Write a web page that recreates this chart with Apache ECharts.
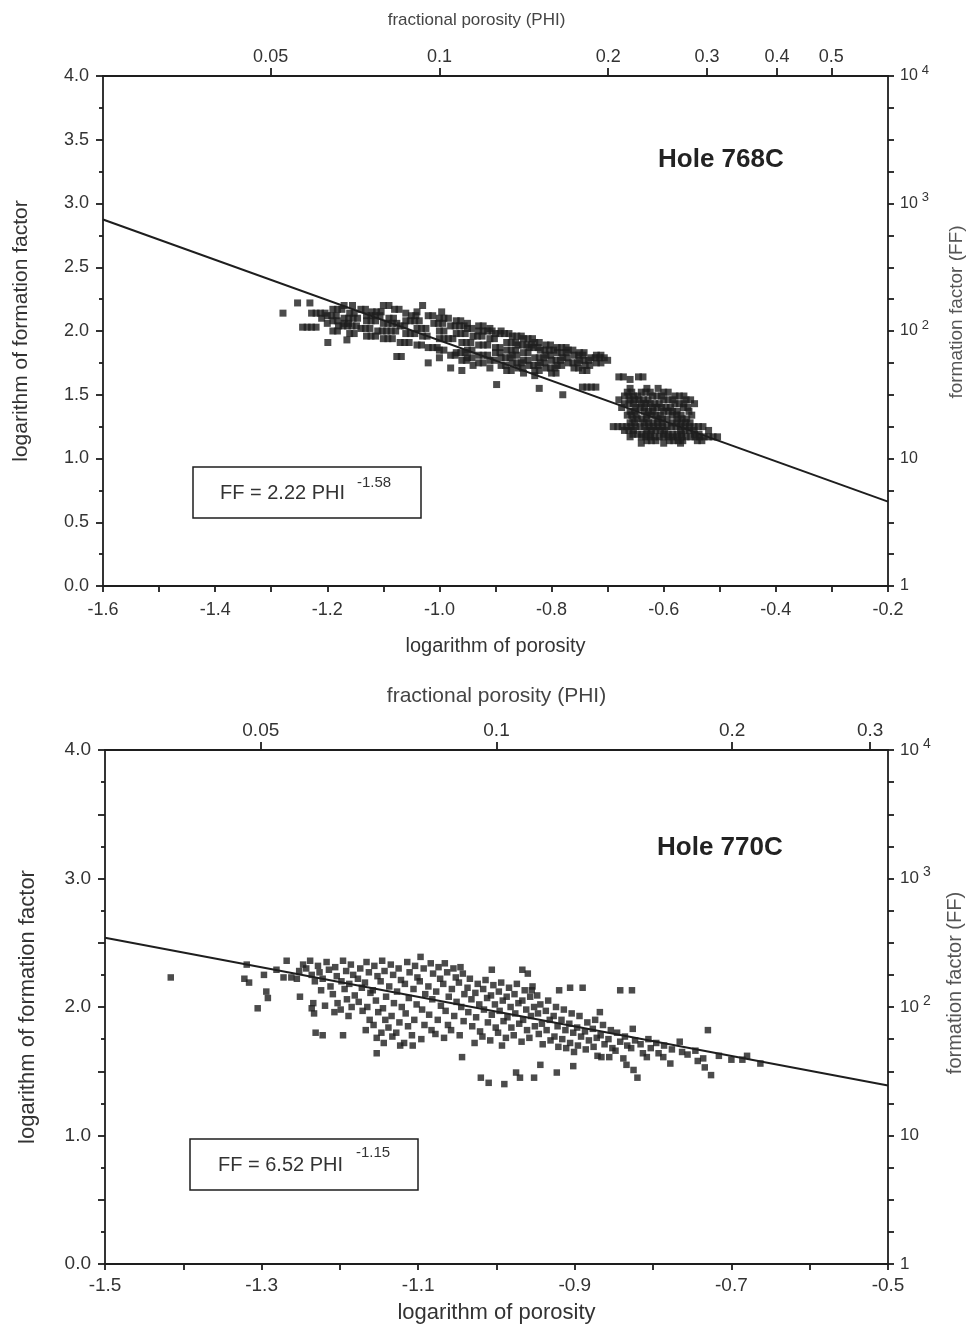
<!DOCTYPE html>
<html><head><meta charset="utf-8">
<script src="https://cdn.jsdelivr.net/npm/echarts@6/dist/echarts.min.js"></script>
<style>html,body{margin:0;padding:0;background:#fff}#c{width:974px;height:1327px}</style>
</head><body><div id="c"></div>
<script>
// ---------- DATA ----------
// Hole 768C: points read as horizontal runs [log FF, [log porosity ...]]
const hole768Strands = [
 [2.22, [-1.253, -1.231]],
 [2.20, [-1.17, -1.155, -1.10, -1.09, -1.03]],
 [2.17, [-1.19, -1.182, -1.174, -1.14, -1.132, -1.08, -1.072]],
 [2.15, [-1.12, -1.112, -1.104, -1.04, -0.996]],
 [2.14, [-1.279, -1.228, -1.22, -1.212, -1.204, -1.16, -1.152, -1.06]],
 [2.12, [-1.20, -1.192, -1.184, -1.13, -1.122, -1.114, -1.106, -1.05, -1.042, -1.02, -1.012]],
 [2.10, [-1.21, -1.17, -1.162, -1.154, -1.146, -1.09, -1.082, -1.00, -0.992, -0.984]],
 [2.08, [-1.19, -1.182, -1.13, -1.122, -1.114, -1.06, -1.052, -1.044, -1.036, -0.97, -0.962]],
 [2.06, [-1.20, -1.17, -1.162, -1.10, -1.092, -1.084, -1.076, -1.01, -1.002, -0.994, -0.95]],
 [2.04, [-1.18, -1.172, -1.164, -1.156, -1.148, -1.07, -1.062, -0.98, -0.972, -0.964, -0.956, -0.93, -0.922]],
 [2.03, [-1.244, -1.236, -1.228, -1.22]],
 [2.02, [-1.14, -1.132, -1.124, -1.04, -1.032, -1.024, -0.95, -0.942, -0.91]],
 [2.00, [-1.19, -1.182, -1.11, -1.102, -1.094, -1.086, -1.078, -1.00, -0.992, -0.93, -0.922, -0.914, -0.906, -0.89]],
 [1.98, [-1.16, -1.152, -1.06, -1.052, -1.044, -0.97, -0.962, -0.954, -0.90, -0.892, -0.884, -0.876]],
 [1.96, [-1.13, -1.122, -1.114, -1.03, -1.022, -0.94, -0.932, -0.924, -0.87, -0.862, -0.854]],
 [1.94, [-1.10, -1.092, -1.084, -1.00, -0.992, -0.984, -0.976, -0.91, -0.902, -0.85, -0.842, -0.834]],
 [1.93, [-1.165]],
 [1.91, [-1.199, -1.07, -1.062, -1.054, -0.96, -0.952, -0.944, -0.88, -0.872, -0.864, -0.83, -0.822]],
 [1.89, [-1.04, -1.032, -0.93, -0.922, -0.914, -0.86, -0.852, -0.844, -0.836, -0.81, -0.802]],
 [1.87, [-1.02, -1.012, -1.004, -0.90, -0.892, -0.84, -0.832, -0.824, -0.79, -0.782, -0.774]],
 [1.85, [-1.00, -0.992, -0.95, -0.942, -0.88, -0.872, -0.864, -0.82, -0.812, -0.804, -0.796, -0.77, -0.762]],
 [1.83, [-0.97, -0.962, -0.954, -0.90, -0.892, -0.85, -0.842, -0.79, -0.782, -0.774, -0.75, -0.742]],
 [1.81, [-0.98, -0.972, -0.93, -0.922, -0.914, -0.87, -0.862, -0.81, -0.802, -0.76, -0.752, -0.744, -0.72, -0.712]],
 [1.80, [-1.076, -1.068]],
 [1.79, [-1.00, -0.95, -0.942, -0.89, -0.882, -0.874, -0.83, -0.822, -0.814, -0.78, -0.772, -0.73, -0.722, -0.714, -0.706]],
 [1.77, [-0.96, -0.952, -0.91, -0.902, -0.85, -0.842, -0.80, -0.792, -0.784, -0.75, -0.742, -0.734, -0.70]],
 [1.75, [-1.02, -0.93, -0.922, -0.87, -0.862, -0.854, -0.82, -0.812, -0.77, -0.762, -0.754, -0.72, -0.712]],
 [1.73, [-0.94, -0.89, -0.882, -0.84, -0.832, -0.824, -0.79, -0.782, -0.74, -0.732]],
 [1.71, [-0.98, -0.91, -0.86, -0.852, -0.81, -0.802, -0.794, -0.76, -0.752]],
 [1.69, [-0.96, -0.88, -0.872, -0.83, -0.822, -0.745, -0.737]],
 [1.67, [-0.85, -0.80, -0.792]],
 [1.65, [-0.83]],
 [1.64, [-0.68, -0.672, -0.645, -0.637]],
 [1.62, [-0.66]],
 [1.58, [-0.898]],
 [1.56, [-0.745, -0.737, -0.729, -0.721]],
 [1.55, [-0.822, -0.66, -0.63, -0.61]],
 [1.52, [-0.665, -0.657, -0.64, -0.632, -0.624, -0.60, -0.592]],
 [1.50, [-0.78]],
 [1.49, [-0.67, -0.662, -0.654, -0.646, -0.62, -0.612, -0.604, -0.58, -0.572, -0.564]],
 [1.46, [-0.68, -0.66, -0.652, -0.644, -0.636, -0.628, -0.60, -0.592, -0.584, -0.56, -0.552]],
 [1.43, [-0.67, -0.662, -0.654, -0.64, -0.632, -0.624, -0.616, -0.608, -0.58, -0.572, -0.564, -0.545]],
 [1.40, [-0.675, -0.65, -0.642, -0.634, -0.62, -0.612, -0.604, -0.596, -0.588, -0.565, -0.557]],
 [1.37, [-0.66, -0.652, -0.635, -0.627, -0.619, -0.60, -0.592, -0.584, -0.576, -0.555]],
 [1.34, [-0.665, -0.657, -0.649, -0.63, -0.622, -0.614, -0.606, -0.585, -0.577, -0.569, -0.55]],
 [1.31, [-0.655, -0.647, -0.639, -0.631, -0.61, -0.602, -0.594, -0.575, -0.567, -0.559]],
 [1.28, [-0.66, -0.652, -0.635, -0.627, -0.619, -0.611, -0.603, -0.585, -0.577, -0.569, -0.561, -0.553]],
 [1.25, [-0.69, -0.682, -0.674, -0.666, -0.658, -0.65, -0.642, -0.634, -0.626, -0.618, -0.61, -0.602, -0.594, -0.586, -0.578, -0.57, -0.562, -0.554, -0.546, -0.538, -0.53]],
 [1.22, [-0.67, -0.662, -0.654, -0.63, -0.622, -0.614, -0.606, -0.598, -0.57, -0.562, -0.554, -0.546, -0.52]],
 [1.19, [-0.655, -0.647, -0.639, -0.631, -0.623, -0.60, -0.592, -0.584, -0.576, -0.568, -0.545, -0.537]],
 [1.17, [-0.66, -0.64, -0.632, -0.624, -0.616, -0.608, -0.60, -0.592, -0.584, -0.576, -0.568, -0.56, -0.552, -0.544, -0.536, -0.528, -0.52, -0.512, -0.504]],
 [1.14, [-0.63, -0.622, -0.614, -0.59, -0.582, -0.574, -0.566, -0.54, -0.532]],
 [1.12, [-0.64, -0.60, -0.57]]
];
// Hole 770C: [log porosity, log formation factor]
const hole770Points = [
[-1.416,2.23],
[-1.319,2.33],[-1.322,2.22],[-1.316,2.19],[-1.305,1.99],[-1.294,2.12],[-1.292,2.07],[-1.297,2.25],[-1.281,2.29],[-1.268,2.36],[-1.272,2.23],[-1.262,2.23],[-1.255,2.22],[-1.251,2.08],[-1.234,2.03],[-1.236,1.99],[-1.233,1.95],[-1.231,1.80],[-1.222,1.78],[-1.196,1.78],
[-1.247,2.33],[-1.252,2.28],
[-1.238,2.36],[-1.243,2.30],[-1.236,2.25],
[-1.228,2.32],[-1.226,2.27],[-1.232,2.20],[-1.224,2.13],
[-1.217,2.35],[-1.214,2.29],[-1.222,2.22],[-1.212,2.16],[-1.219,2.01],
[-1.206,2.31],[-1.204,2.24],[-1.209,2.10],[-1.203,2.03],[-1.207,1.96],
[-1.196,2.36],[-1.192,2.28],[-1.198,2.20],[-1.194,2.14],[-1.191,2.06],[-1.199,1.98],
[-1.186,2.33],[-1.183,2.25],[-1.188,2.18],[-1.181,2.09],[-1.185,2.00],[-1.189,1.93],
[-1.174,2.30],[-1.177,2.22],[-1.172,2.15],[-1.176,2.04],[-1.171,1.97],
[-1.166,2.35],[-1.163,2.27],[-1.168,2.19],[-1.161,2.11],[-1.165,2.00],[-1.162,1.90],[-1.167,1.82],
[-1.156,2.32],[-1.152,2.24],[-1.158,2.13],[-1.154,2.05],[-1.151,1.96],[-1.157,1.86],[-1.153,1.76],
[-1.146,2.36],[-1.143,2.28],[-1.148,2.20],[-1.141,2.08],[-1.145,1.99],[-1.142,1.90],[-1.147,1.80],[-1.144,1.72],[-1.153,1.64],
[-1.135,2.33],[-1.132,2.25],[-1.137,2.16],[-1.131,2.03],[-1.134,1.93],[-1.138,1.84],[-1.133,1.77],
[-1.125,2.30],[-1.122,2.21],[-1.127,2.12],[-1.121,2.00],[-1.124,1.88],[-1.128,1.80],[-1.123,1.70],
[-1.114,2.35],[-1.111,2.27],[-1.117,2.18],[-1.112,2.07],[-1.116,1.95],[-1.113,1.85],[-1.118,1.72],
[-1.104,2.32],[-1.101,2.23],[-1.106,2.14],[-1.102,2.02],[-1.105,1.90],[-1.108,1.78],[-1.107,1.70],
[-1.097,2.39],[-1.093,2.30],[-1.098,2.20],[-1.091,2.10],[-1.095,1.98],[-1.092,1.86],[-1.096,1.75],
[-1.084,2.34],[-1.081,2.26],[-1.087,2.16],[-1.082,2.06],[-1.086,1.94],[-1.083,1.82],
[-1.074,2.31],[-1.072,2.22],[-1.077,2.12],[-1.071,2.01],[-1.075,1.90],[-1.078,1.79],
[-1.066,2.34],[-1.063,2.27],[-1.068,2.18],[-1.061,2.08],[-1.065,1.97],[-1.062,1.86],[-1.067,1.76],
[-1.055,2.30],[-1.052,2.23],[-1.057,2.14],[-1.051,2.04],[-1.054,1.93],[-1.058,1.82],
[-1.046,2.31],[-1.043,2.26],[-1.048,2.19],[-1.041,2.10],[-1.045,2.00],[-1.042,1.89],[-1.047,1.78],
[-1.034,2.22],[-1.037,2.15],[-1.032,2.06],[-1.036,1.96],[-1.031,1.85],[-1.044,1.61],
[-1.024,2.18],[-1.027,2.11],[-1.022,2.02],[-1.026,1.92],[-1.021,1.81],[-1.028,1.72],
[-1.014,2.21],[-1.017,2.14],[-1.012,2.07],[-1.016,1.98],[-1.011,1.88],[-1.018,1.77],[-1.02,1.45],
[-1.004,2.17],[-1.007,2.09],[-1.002,2.02],[-1.006,1.94],[-1.001,1.84],[-1.008,1.74],[-1.01,1.41],
[-1.006,2.29],[-0.994,2.19],[-0.997,2.12],[-0.992,2.05],[-0.996,1.97],[-0.991,1.89],[-0.998,1.80],[-0.993,1.70],
[-0.984,2.15],[-0.987,2.08],[-0.982,2.00],[-0.986,1.92],[-0.981,1.84],[-0.988,1.76],[-0.99,1.40],
[-0.974,2.18],[-0.977,2.10],[-0.972,2.03],[-0.976,1.95],[-0.971,1.87],[-0.978,1.78],[-0.975,1.49],
[-0.967,2.29],[-0.964,2.13],[-0.967,2.05],[-0.962,1.98],[-0.966,1.90],[-0.961,1.82],[-0.968,1.73],[-0.97,1.45],
[-0.96,2.26],[-0.954,2.16],[-0.957,2.08],[-0.952,2.00],[-0.956,1.93],[-0.951,1.85],[-0.958,1.76],
[-0.955,2.13],[-0.948,2.09],
[-0.944,2.02],[-0.947,1.95],[-0.942,1.87],[-0.946,1.79],[-0.941,1.71],[-0.952,1.45],
[-0.934,2.05],[-0.937,1.97],[-0.932,1.90],[-0.936,1.82],[-0.931,1.74],[-0.944,1.55],
[-0.924,2.00],[-0.927,1.93],[-0.922,1.85],[-0.926,1.77],[-0.921,1.69],
[-0.92,2.13],[-0.914,1.98],[-0.917,1.90],[-0.912,1.82],[-0.916,1.75],[-0.911,1.68],[-0.923,1.49],
[-0.904,1.95],[-0.907,1.87],[-0.902,1.80],[-0.906,1.72],[-0.901,1.65],
[-0.906,2.15],[-0.894,1.93],[-0.897,1.84],[-0.892,1.77],[-0.896,1.70],[-0.902,1.54],
[-0.89,2.15],[-0.884,1.88],[-0.887,1.81],[-0.882,1.74],[-0.886,1.67],
[-0.874,1.90],[-0.877,1.83],[-0.872,1.76],[-0.876,1.69],[-0.871,1.62],
[-0.868,1.96],[-0.864,1.86],[-0.867,1.78],[-0.862,1.71],[-0.866,1.61],
[-0.854,1.82],[-0.857,1.75],[-0.852,1.68],[-0.856,1.61],
[-0.846,1.80],[-0.842,1.73],[-0.848,1.66],
[-0.842,2.13],[-0.836,1.77],[-0.833,1.70],[-0.838,1.60],[-0.834,1.55],
[-0.827,2.13],[-0.826,1.83],[-0.823,1.74],[-0.828,1.68],[-0.825,1.51],
[-0.816,1.71],[-0.813,1.64],[-0.82,1.45],
[-0.806,1.75],[-0.803,1.68],[-0.808,1.61],
[-0.796,1.72],[-0.793,1.64],
[-0.786,1.70],[-0.787,1.61],
[-0.776,1.67],[-0.778,1.56],
[-0.766,1.73],[-0.763,1.65],
[-0.756,1.63],
[-0.746,1.66],[-0.743,1.58],
[-0.736,1.60],
[-0.73,1.82],[-0.734,1.53],[-0.726,1.47],
[-0.716,1.62],
[-0.70,1.59],
[-0.686,1.59],[-0.68,1.62],[-0.663,1.56]
];
// Least-squares lines (endpoints)
const fit768 = [[-1.6, 2.874], [-0.2, 0.662]];
const fit770 = [[-1.5, 2.539], [-0.5, 1.389]];
// Tick labels
const phiTicks768 = [0.05, 0.1, 0.2, 0.3, 0.4, 0.5];
const phiTicks770 = [0.05, 0.1, 0.2, 0.3];
const ffExponents = [0, 1, 2, 3, 4];
const holeLabels = ['Hole 768C', 'Hole 770C'];
const equations = [['FF = 2.22 PHI', '-1.58'], ['FF = 6.52 PHI', '-1.15']];

// ---------- CHART ----------
const hole768Points = [];
hole768Strands.forEach(function (s) { s[1].forEach(function (x) { hole768Points.push([x, s[0]]); }); });

const FONT = '"Liberation Sans", Arial, Helvetica, sans-serif';
const INK = '#1e1e1e';
const TXT = '#333';
const lineSty = { color: INK, width: 1.8 };

function fmtPhi(v) { return String(+Math.pow(10, v).toFixed(2)); }
function ffLabel(v) {
  const e = Math.round(v);
  if (e === 0) return '{b|1}';
  if (e === 1) return '{b|10}';
  return '{b|10}{s|' + e + '}';
}
function ffRich(sz) {
  return {
    b: { fontFamily: FONT, fontSize: sz, color: TXT },
    s: { fontFamily: FONT, fontSize: sz - 3, color: TXT, padding: [0, 0, 12, 4] }
  };
}

function xBottom(grid, min, max, labelOdd, c) {
  return {
    type: 'value', gridIndex: grid, position: 'bottom', min: min, max: max, interval: 0.1,
    axisLine: { show: true, onZero: false, lineStyle: lineSty },
    axisTick: { show: true, length: 6, lineStyle: lineSty },
    splitLine: { show: false },
    axisLabel: {
      margin: c.lblMargin, color: TXT, fontFamily: FONT, fontSize: c.tick,
      formatter: function (v) {
        const k = Math.round(Math.abs(v) * 10);
        return ((k % 2 === 1) === labelOdd) ? v.toFixed(1) : '';
      }
    },
    name: 'logarithm of porosity', nameLocation: 'middle', nameGap: c.bGap,
    nameTextStyle: { color: TXT, fontFamily: FONT, fontSize: c.bName }
  };
}
function xTop(grid, min, max, phis, c) {
  const vals = phis.map(function (p) { return Math.log10(p); });
  return {
    type: 'value', gridIndex: grid, position: 'top', min: min, max: max,
    axisLine: { show: true, onZero: false, lineStyle: lineSty },
    axisTick: { show: true, length: 8, lineStyle: lineSty, customValues: vals },
    splitLine: { show: false },
    axisLabel: { margin: 10, color: TXT, fontFamily: FONT, fontSize: c.tick, customValues: vals, formatter: fmtPhi },
    name: 'fractional porosity (PHI)', nameLocation: 'middle', nameGap: c.tGap,
    nameTextStyle: { color: '#444', fontFamily: FONT, fontSize: c.tName, padding: c.tPad }
  };
}
function yLeft(grid, labelStep, c) {
  return {
    type: 'value', gridIndex: grid, position: 'left', min: 0, max: 4, interval: 0.5,
    axisLine: { show: true, onZero: false, lineStyle: lineSty },
    axisTick: { show: true, length: 7, lineStyle: lineSty },
    minorTick: { show: true, splitNumber: 2, length: 4, lineStyle: lineSty },
    splitLine: { show: false },
    axisLabel: {
      margin: 14, color: TXT, fontFamily: FONT, fontSize: c.tick,
      formatter: function (v) {
        const k = Math.round(v / labelStep);
        return Math.abs(k * labelStep - v) < 1e-6 ? v.toFixed(1) : '';
      }
    },
    name: 'logarithm of formation factor', nameLocation: 'middle', nameGap: c.lGap, nameRotate: 90,
    nameTextStyle: { color: TXT, fontFamily: FONT, fontSize: c.lName }
  };
}
function yRight(grid, c) {
  return {
    type: 'value', gridIndex: grid, position: 'right', min: 0, max: 4, interval: 0.25,
    axisLine: { show: true, onZero: false, lineStyle: lineSty },
    axisTick: { show: true, length: 6, lineStyle: lineSty },
    splitLine: { show: false },
    axisLabel: { margin: 12, customValues: ffExponents, formatter: ffLabel, rich: ffRich(c.ff) },
    name: 'formation factor (FF)', nameLocation: 'middle', nameGap: c.rGap, nameRotate: 90,
    nameTextStyle: { color: '#555', fontFamily: FONT, fontSize: c.rName, padding: c.rPad }
  };
}
const cfgA = { tick: 18, lblMargin: 15, bName: 20, bGap: 50, tName: 17, tGap: 47, tPad: [0, 38, 0, 0], lName: 21, lGap: 71, rName: 19, rGap: 59, rPad: [0, 0, 0, 38], ff: 16 };
const cfgB = { tick: 19, lblMargin: 12, bName: 22, bGap: 38, tName: 21, tGap: 43, tPad: [0, 0, 0, 0], lName: 22, lGap: 66, rName: 20, rGap: 57, rPad: [0, 0, 0, 48], ff: 17 };

const option = {
  animation: false,
  backgroundColor: '#fff',
  grid: [
    { left: 103, top: 76, width: 786, height: 510 },
    { left: 105, top: 750, width: 783, height: 514 }
  ],
  xAxis: [
    xBottom(0, -1.6, -0.2, false, cfgA),
    xTop(0, -1.6, -0.2, phiTicks768, cfgA),
    xBottom(1, -1.5, -0.5, true, cfgB),
    xTop(1, -1.5, -0.5, phiTicks770, cfgB)
  ],
  yAxis: [yLeft(0, 0.5, cfgA), yRight(0, cfgA), yLeft(1, 1, cfgB), yRight(1, cfgB)],
  series: [
    { type: 'line', xAxisIndex: 0, yAxisIndex: 0, data: fit768, showSymbol: false, lineStyle: { color: INK, width: 2 }, z: 2 },
    { type: 'scatter', xAxisIndex: 0, yAxisIndex: 0, data: hole768Points, symbol: 'rect', symbolSize: 7, itemStyle: { color: INK }, z: 3 },
    { type: 'line', xAxisIndex: 2, yAxisIndex: 2, data: fit770, showSymbol: false, lineStyle: { color: INK, width: 2 }, z: 2 },
    { type: 'scatter', xAxisIndex: 2, yAxisIndex: 2, data: hole770Points, symbol: 'rect', symbolSize: 6.5, itemStyle: { color: INK }, z: 3 }
  ],
  graphic: [
    { type: 'text', left: 658, top: 147, style: { text: holeLabels[0], font: 'bold 26px ' + FONT, fill: '#222' } },
    { type: 'text', left: 657, top: 835, style: { text: holeLabels[1], font: 'bold 26px ' + FONT, fill: '#222' } },
    { type: 'rect', shape: { x: 193, y: 467, width: 228, height: 51 }, style: { fill: '#fff', stroke: INK, lineWidth: 1.5 }, z: 10 },
    { type: 'text', left: 220, top: 483, z: 11, style: { text: equations[0][0], font: '20px ' + FONT, fill: TXT } },
    { type: 'text', left: 357, top: 475, z: 11, style: { text: equations[0][1], font: '15px ' + FONT, fill: TXT } },
    { type: 'rect', shape: { x: 190, y: 1139, width: 228, height: 51 }, style: { fill: '#fff', stroke: INK, lineWidth: 1.5 }, z: 10 },
    { type: 'text', left: 218, top: 1155, z: 11, style: { text: equations[1][0], font: '20px ' + FONT, fill: TXT } },
    { type: 'text', left: 356, top: 1145, z: 11, style: { text: equations[1][1], font: '15px ' + FONT, fill: TXT } }
  ]
};
const chart = echarts.init(document.getElementById('c'), null, { renderer: 'canvas' });
chart.setOption(option);
</script>
</body></html>
